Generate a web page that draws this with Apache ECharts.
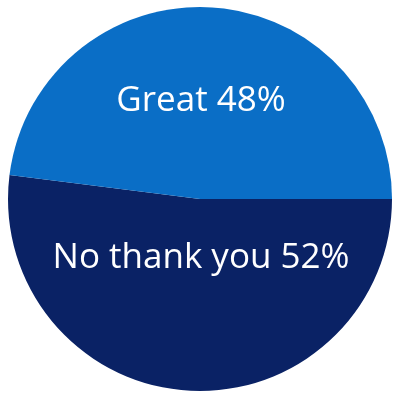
<!DOCTYPE html>
<html>
<head>
<meta charset="utf-8">
<script src="https://cdn.jsdelivr.net/npm/echarts@6/dist/echarts.min.js"></script>
<style>
html,body{margin:0;padding:0;background:#fff;}
#chart{width:400px;height:400px;}
</style>
</head>
<body>
<div id="chart"></div>
<script>
const categories = ['No thank you', 'Great'];
const values = [52, 48];
const colors = ['#0a2265', '#0a6ec6'];
const labelY = [258, 101];

const chart = echarts.init(document.getElementById('chart'), null, {renderer: 'canvas'});
chart.setOption({
  animation: false,
  series: [{
    type: 'pie',
    center: [200, 199],
    radius: [0, 192],
    startAngle: 0,
    clockwise: true,
    silent: true,
    data: categories.map((c, i) => ({name: c, value: values[i], itemStyle: {color: colors[i]}})),
    label: {
      show: true,
      position: 'inside',
      formatter: p => p.name + ' ' + p.value + '%',
      color: '#ffffff',
      fontFamily: 'Open Sans',
      fontSize: 35,
      fontWeight: 'normal'
    },
    labelLine: {show: false},
    labelLayout: p => ({x: 201, y: labelY[p.dataIndex], align: 'center', verticalAlign: 'middle'})
  }]
});
</script>
</body>
</html>
